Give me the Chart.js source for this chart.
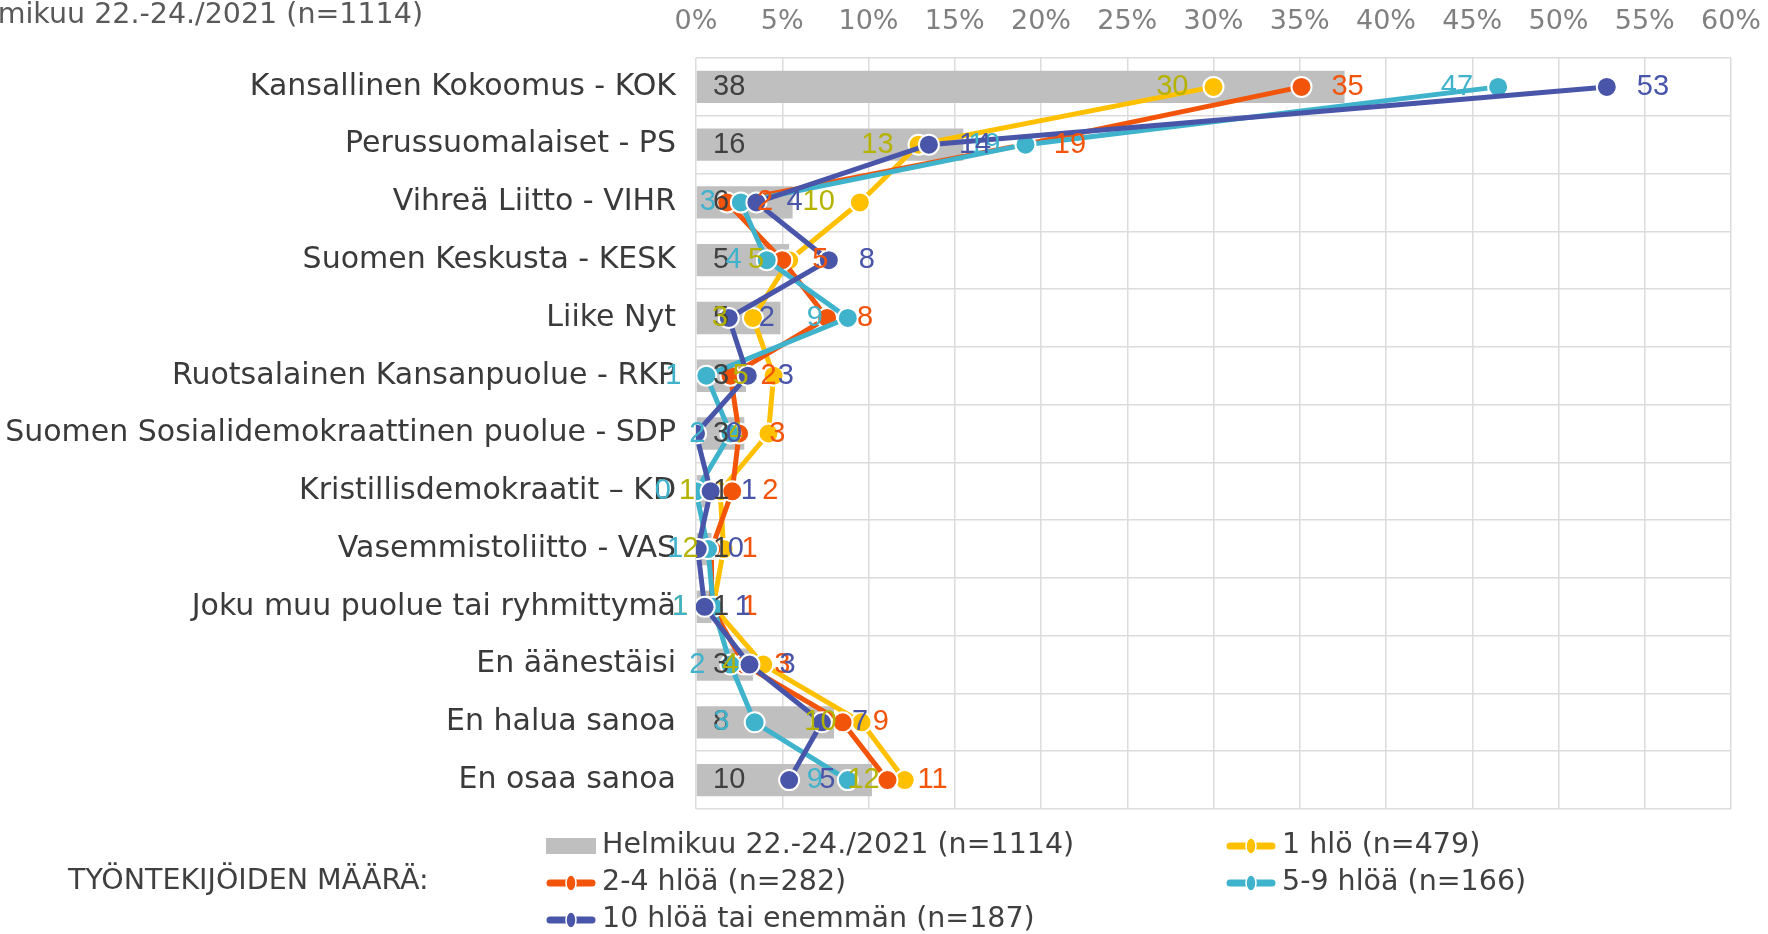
<!DOCTYPE html>
<html>
<head>
<meta charset="utf-8">
<script src="https://cdn.jsdelivr.net/npm/chart.js@4.4.0/dist/chart.umd.min.js"></script>
<style>
  html, body { margin: 0; padding: 0; background: #fff; }
  #wrap { position: relative; width: 1768px; height: 934px; }
</style>
</head>
<body>
<div id="wrap"><canvas id="chart" width="1768" height="934"></canvas></div>
<script>
/* ── Data ────────────────────────────────────────────── */
const categories = [
  'Kansallinen Kokoomus - KOK',
  'Perussuomalaiset - PS',
  'Vihreä Liitto - VIHR',
  'Suomen Keskusta - KESK',
  'Liike Nyt',
  'Ruotsalainen Kansanpuolue - RKP',
  'Suomen Sosialidemokraattinen puolue - SDP',
  'Kristillisdemokraatit – KD',
  'Vasemmistoliitto - VAS',
  'Joku muu puolue tai ryhmittymä',
  'En äänestäisi',
  'En halua sanoa',
  'En osaa sanoa'
];

const xTicks = [0, 5, 10, 15, 20, 25, 30, 35, 40, 45, 50, 55, 60];

const totalLabel = 'Helmikuu 22.-24./2021 (n=1114)';
const total      = [37.6, 15.5, 5.6, 5.4, 4.9, 2.9, 2.8, 0.8, 0.9, 0.9, 3.3, 8.0, 10.2];

const oneLabel   = '1 hlö (n=479)';
const onePerson  = [30.0, 12.9, 9.5, 5.4, 3.3, 4.5, 4.2, 1.4, 1.6, 1.0, 3.9, 9.6, 12.1];

const smallLabel = '2-4 hlöä (n=282)';
const small      = [35.1, 19.0, 1.8, 5.0, 7.6, 2.0, 2.5, 2.1, 0.9, 0.9, 2.8, 8.5, 11.1];

const midLabel   = '5-9 hlöä (n=166)';
const mid        = [46.5, 19.1, 2.6, 4.1, 8.8, 0.6, 2.0, 0.0, 0.7, 1.0, 2.0, 3.4, 8.8];

const bigLabel   = '10 hlöä tai enemmän (n=187)';
const big        = [52.8, 13.5, 3.5, 7.7, 1.9, 3.0, 0.0, 0.85, 0.1, 0.5, 3.1, 7.3, 5.4];

const legendTitle = 'TYÖNTEKIJÖIDEN MÄÄRÄ:';

/* ── Plugins ─────────────────────────────────────────── */
// value labels next to bars and points
const valueLabels = {
  id: 'valueLabels',
  afterDatasetsDraw(chart) {
    const ctx = chart.ctx;
    const x0 = chart.scales.x.getPixelForValue(0);
    ctx.save();
    ctx.textBaseline = 'middle';
    ctx.font = '29px "Liberation Sans", Arial, sans-serif';
    chart.data.datasets.forEach((ds, i) => {
      const meta = chart.getDatasetMeta(i);
      ctx.fillStyle = ds.labelColor;
      meta.data.forEach((el, j) => {
        const txt = String(Math.round(ds.data[j]));
        if (ds.type === 'bar') {
          ctx.textAlign = 'left';
          ctx.fillText(txt, x0 + 17, el.y);
        } else if (ds.labelSide === 'left') {
          ctx.textAlign = 'right';
          ctx.fillText(txt, el.x - 25, el.y);
        } else {
          ctx.textAlign = 'left';
          ctx.fillText(txt, el.x + 30, el.y);
        }
      });
    });
    ctx.restore();
  }
};

// cut-off title in the corner + custom legend at the bottom
const legendBox = {
  id: 'legendBox',
  afterDraw(chart) {
    const ctx = chart.ctx;
    const ds = chart.data.datasets;
    ctx.save();
    ctx.textBaseline = 'middle';
    ctx.font = '28.5px "DejaVu Sans", sans-serif';

    ctx.fillStyle = '#595959';
    ctx.textAlign = 'right';
    ctx.fillText(totalLabel, 423, 16);

    ctx.fillStyle = '#404040';
    ctx.textAlign = 'left';
    ctx.fillText(legendTitle, 68, 882);

    const spots = [[546, 846], [1226, 846], [546, 883], [1226, 883], [546, 920]];
    ds.forEach((d, i) => {
      const [x, y] = spots[i];
      if (d.type === 'bar') {
        ctx.fillStyle = '#bfbfbf';
        ctx.fillRect(x, y - 8, 50, 16);
      } else {
        ctx.strokeStyle = d.borderColor;
        ctx.lineWidth = 7;
        ctx.lineCap = 'round';
        ctx.beginPath();
        ctx.moveTo(x + 4, y);
        ctx.lineTo(x + 46, y);
        ctx.stroke();
        ctx.beginPath();
        ctx.ellipse(x + 25, y, 5, 8, 0, 0, Math.PI * 2);
        ctx.fillStyle = d.borderColor;
        ctx.fill();
        ctx.strokeStyle = '#fff';
        ctx.lineWidth = 1.5;
        ctx.stroke();
      }
      ctx.fillStyle = '#404040';
      ctx.fillText(d.label, x + 56, y);
    });
    ctx.restore();
  }
};

/* ── Chart ───────────────────────────────────────────── */
function lineSet(label, data, color, textColor, side, order) {
  return {
    type: 'line',
    label,
    data,
    borderColor: color,
    backgroundColor: color,
    borderWidth: 5,
    tension: 0,
    pointRadius: 10,
    pointBackgroundColor: color,
    pointBorderColor: '#fff',
    pointBorderWidth: 2,
    labelColor: textColor,
    labelSide: side,
    order
  };
}

new Chart(document.getElementById('chart'), {
  type: 'bar',
  data: {
    labels: categories,
    datasets: [
      {
        type: 'bar',
        label: totalLabel,
        data: total,
        backgroundColor: '#bfbfbf',
        barPercentage: 0.56,
        categoryPercentage: 1,
        labelColor: '#404040',
        order: 5
      },
      lineSet(oneLabel, onePerson, '#ffc000', '#b5b300', 'left', 4),
      lineSet(smallLabel, small, '#f2540a', '#f2540a', 'right', 3),
      lineSet(midLabel, mid, '#3fb2cc', '#3fb2cc', 'left', 2),
      lineSet(bigLabel, big, '#4855a8', '#4855a8', 'right', 1)
    ]
  },
  options: {
    indexAxis: 'y',
    responsive: false,
    animation: false,
    layout: { padding: { left: 0, right: 37, top: 0, bottom: 125 } },
    plugins: { legend: { display: false }, tooltip: { enabled: false } },
    scales: {
      x: {
        position: 'top',
        min: 0,
        max: 60,
        afterBuildTicks: s => { s.ticks = xTicks.map(v => ({ value: v })); },
        afterFit: s => { s.height = 58; s.paddingLeft = 0; s.paddingRight = 0; },
        ticks: {
          callback: v => v + '%',
          color: '#808080',
          font: { family: 'DejaVu Sans', size: 27 },
          padding: 20
        },
        grid: { color: '#dcdcdc', lineWidth: 1.5, drawTicks: false },
        border: { display: false }
      },
      y: {
        afterFit: s => { s.width = 696; },
        ticks: {
          color: '#3a3a3a',
          font: { family: 'DejaVu Sans', size: 30 },
          padding: 20,
          autoSkip: false
        },
        grid: { color: '#dcdcdc', lineWidth: 1.5, drawTicks: false, offset: true },
        border: { display: false }
      }
    }
  },
  plugins: [valueLabels, legendBox]
});
</script>
</body>
</html>
